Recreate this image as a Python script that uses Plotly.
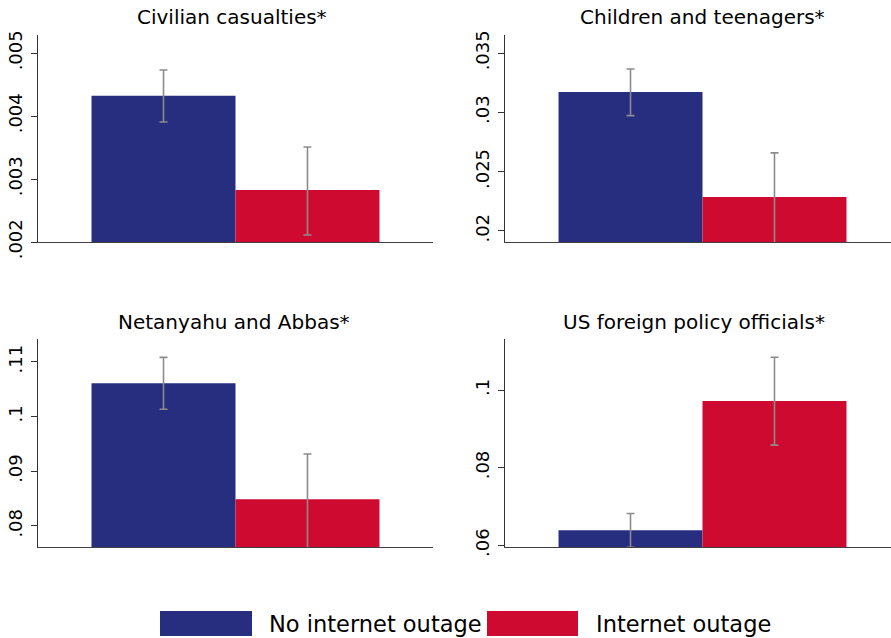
import plotly.graph_objects as go
from plotly.subplots import make_subplots

# panels and series
panels = ["Civilian casualties*", "Children and teenagers*",
          "Netanyahu and Abbas*", "US foreign policy officials*"]
series = ["No internet outage", "Internet outage"]
colors = ["#272E80", "#CE0A30"]

no_outage = [0.00432, 0.03172, 0.10609, 0.06387]
no_outage_lo = [0.003905, 0.02972, 0.10133, 0.0595]
no_outage_hi = [0.00473, 0.03366, 0.1108, 0.06818]

outage = [0.002825, 0.02287, 0.08488, 0.09716]
outage_lo = [0.002111, 0.0190, 0.0760, 0.0858]
outage_hi = [0.003508, 0.02658, 0.09316, 0.10844]

y_ranges = [[0.002, 0.005286], [0.01907, 0.03652], [0.07616, 0.1141], [0.05956, 0.11308]]
tick_vals = [[0.002, 0.003, 0.004, 0.005], [0.02, 0.025, 0.03, 0.035],
             [0.08, 0.09, 0.1, 0.11], [0.06, 0.08, 0.1]]
tick_text = [[".002", ".003", ".004", ".005"], [".02", ".025", ".03", ".035"],
             [".08", ".09", ".1", ".11"], [".06", ".08", ".1"]]

FONT = "DejaVu Sans"
W, H = 891, 638
ML, MT, MB = 38, 35, 91
pw = W - ML
ph = H - MT - MB

fig = make_subplots(rows=2, cols=2, subplot_titles=panels,
                    horizontal_spacing=0.0, vertical_spacing=0.0)

vals = [no_outage, outage]
los = [no_outage_lo, outage_lo]
his = [no_outage_hi, outage_hi]

for i in range(4):
    r, c = i // 2 + 1, i % 2 + 1
    for s in range(2):
        v = vals[s][i]
        fig.add_trace(go.Bar(
            x=[""], y=[v], name=series[s], offsetgroup=str(s),
            marker=dict(color=colors[s], line=dict(width=0)),
            error_y=dict(type="data", symmetric=False,
                         array=[his[s][i] - v], arrayminus=[v - los[s][i]],
                         color="#8C8C8C", thickness=1.6, width=4),
            showlegend=False), row=r, col=c)
    fig.update_yaxes(range=y_ranges[i], tickvals=tick_vals[i], ticktext=tick_text[i],
                     row=r, col=c)

# domains in pixels -> paper
left_x = [0, (433 - ML) / pw]
right_x = [(505 - ML) / pw, 1]
top_y = [(MT + ph - 242) / ph, 1]
bot_y = [0, (MT + ph - 339.3) / ph]
xr_right = [-0.5, 0.5 - (1 - (W - 505) / 395)]
fig.update_layout(
    xaxis=dict(domain=left_x, range=[-0.5, 0.5]),
    xaxis2=dict(domain=right_x, range=xr_right),
    xaxis3=dict(domain=left_x, range=[-0.5, 0.5]),
    xaxis4=dict(domain=right_x, range=xr_right),
    yaxis=dict(domain=top_y), yaxis2=dict(domain=top_y),
    yaxis3=dict(domain=bot_y), yaxis4=dict(domain=bot_y),
)

fig.update_xaxes(showline=True, linecolor="#404040", linewidth=1.2, showticklabels=False,
                 ticks="", showgrid=False, zeroline=False, automargin=False)
fig.update_yaxes(showline=True, linecolor="#333333", linewidth=1.2, ticks="outside",
                 ticklen=6, tickcolor="#333333", tickangle=-90, showgrid=False,
                 zeroline=False, automargin=False, ticklabelstandoff=2,
                 tickfont=dict(family=FONT, size=18, color="#000"))

# subplot titles
title_x = [232, 702, 234, 694]
title_y = [17, 17, 322, 322]
for k, ann in enumerate(fig.layout.annotations):
    ann.font = dict(family=FONT, size=20, color="#000")
    ann.yanchor = "middle"
    ann.x = (title_x[k] - ML) / pw
    ann.y = (MT + ph - title_y[k]) / ph

# legend drawn as large swatches like the original
box_x = [(160, 252), (487, 578)]
text_x = [267, 594]
yc = (MT + ph - 623.5) / ph
hh = 12.5 / ph
for s in range(2):
    fig.add_shape(type="rect", xref="paper", yref="paper",
                  x0=(box_x[s][0] - ML) / pw, x1=(box_x[s][1] - ML) / pw,
                  y0=yc - hh, y1=yc + hh, fillcolor=colors[s], line=dict(width=0))
    fig.add_annotation(text=series[s], xref="paper", yref="paper",
                       x=(text_x[s] - ML) / pw, y=yc, xanchor="left", yanchor="middle",
                       showarrow=False, font=dict(family=FONT, size=22.5, color="#000"))

fig.update_layout(width=W, height=H, margin=dict(l=ML, r=0, t=MT, b=MB, autoexpand=False),
                  plot_bgcolor="white", paper_bgcolor="white",
                  barmode="group", bargap=0.271, bargroupgap=0,
                  font=dict(family=FONT))

# the page's default body margin would shift the whole figure by 8px
fig.write_html("out.html", config={"displayModeBar": False},
               post_script="document.body.style.margin='0';")
